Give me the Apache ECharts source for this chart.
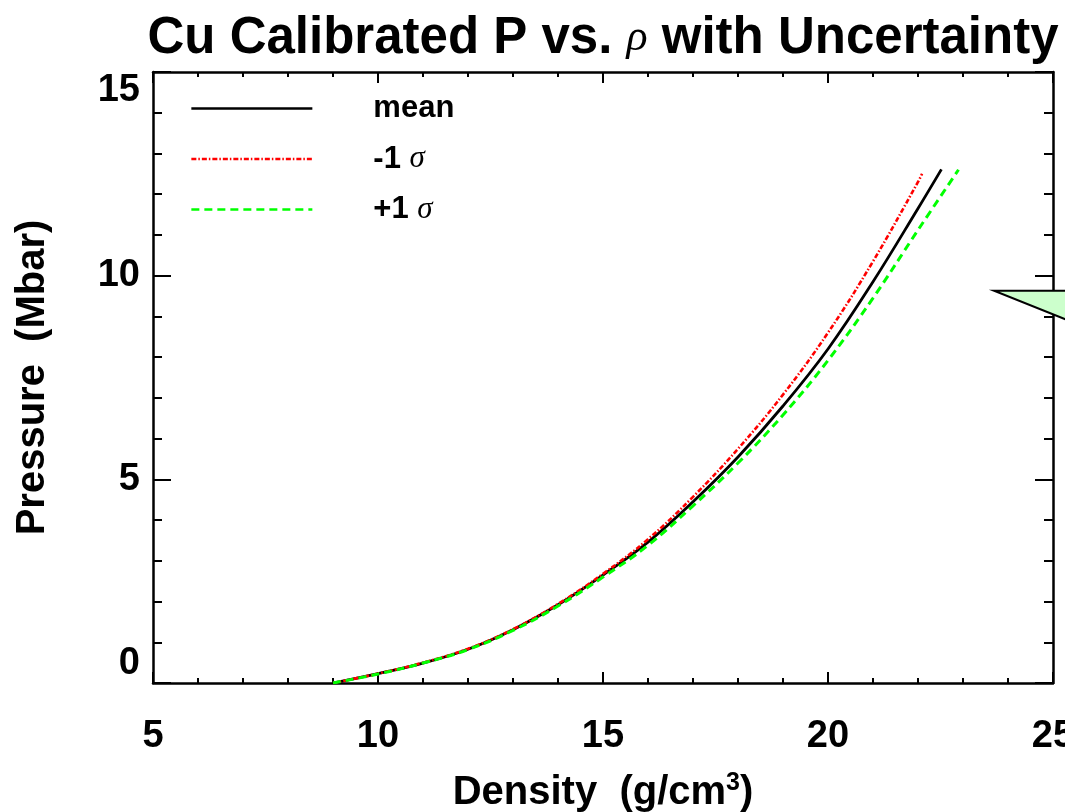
<!DOCTYPE html>
<html>
<head>
<meta charset="utf-8">
<script src="https://cdn.jsdelivr.net/npm/echarts@6/dist/echarts.min.js"></script>
<style>
html,body{margin:0;padding:0;background:#fff;}
#chart{width:1065px;height:812px;}
</style>
</head>
<body>
<div id="chart"></div>
<script>
// ---- data ----
const densityMean  = [9.0, 10, 11, 12, 13, 14, 15, 16, 17, 18, 19, 20, 21, 22, 22.52];
const pressureMean = [0, 0.23, 0.49, 0.83, 1.31, 1.92, 2.65, 3.46, 4.45, 5.55, 6.8, 8.2, 9.85, 11.65, 12.61];

const densityMinus  = [9.0, 10, 11, 12, 13, 14, 15, 16, 17, 18, 19, 20, 21, 22, 22.09];
const pressureMinus = [0, 0.23, 0.5, 0.84, 1.32, 1.94, 2.68, 3.53, 4.57, 5.75, 7.08, 8.6, 10.35, 12.3, 12.5];

const densityPlus  = [9.0, 10, 11, 12, 13, 14, 15, 16, 17, 18, 19, 20, 21, 22, 22.9];
const pressurePlus = [0, 0.22, 0.49, 0.82, 1.29, 1.89, 2.6, 3.38, 4.35, 5.4, 6.58, 7.92, 9.45, 11.12, 12.6];

const xTickLabels = [5, 10, 15, 20, 25];
const yTickLabels = [0, 5, 10, 15];

const seriesNames = ['mean', '-1 σ', '+1 σ'];

// annotation arrow (partly outside the picture), in data coordinates
const arrowCorners = [[23.69, 9.63], [28.0, 9.63], [28.0, 7.72]];

const pair = (xs, ys) => xs.map((x, i) => [x, ys[i]]);

const SANS = "'Liberation Sans', Arial, Helvetica, sans-serif";
const SERIF = "'Liberation Serif', 'Times New Roman', serif";

const chart = echarts.init(document.getElementById('chart'), null, {renderer: 'canvas'});

function axisCommon(len, minorLen) {
  return {
    axisLine: {show: true, onZero: false, lineStyle: {color: '#000', width: 2.5}},
    axisTick: {show: true, inside: true, length: len, lineStyle: {color: '#000', width: 2}},
    minorTick: {show: true, splitNumber: 5, length: minorLen, lineStyle: {color: '#000', width: 2}},
    splitLine: {show: false},
    minorSplitLine: {show: false}
  };
}

const xMin = xTickLabels[0], xMax = xTickLabels[xTickLabels.length - 1];
const xInt = xTickLabels[1] - xTickLabels[0];
const yMin = yTickLabels[0], yMax = yTickLabels[yTickLabels.length - 1];
const yInt = yTickLabels[1] - yTickLabels[0];

const legendRich = {
  sp: {width: 56, fontSize: 31},
  b: {fontFamily: SANS, fontWeight: 'bold', fontSize: 31, color: '#000'},
  g: {fontFamily: SERIF, fontStyle: 'italic', fontWeight: 'normal', fontSize: 31, color: '#000'}
};

const option = {
  backgroundColor: '#fff',
  animation: false,
  title: {
    text: '{b|Cu Calibrated P vs. }{g|ρ}{b| with Uncertainty}',
    left: 603,
    top: 13,
    padding: 0,
    textAlign: 'center',
    textStyle: {
      rich: {
        b: {fontFamily: SANS, fontWeight: 'bold', fontSize: 51, color: '#000'},
        g: {fontFamily: SERIF, fontStyle: 'italic', fontWeight: 'normal', fontSize: 44, color: '#000'}
      }
    }
  },
  legend: {
    orient: 'vertical',
    left: 190,
    top: 93,
    itemWidth: 121,
    itemHeight: 30,
    itemGap: 19.5,
    padding: 0,
    data: seriesNames,
    itemStyle: {opacity: 0, borderWidth: 0},
    lineStyle: {width: 2.7},
    formatter: function (name) {
      if (name === 'mean') return '{sp| }{b|mean}';
      if (name === '-1 σ') return '{sp| }{b|-1 }{g|σ}';
      return '{sp| }{b|+1 }{g|σ}';
    },
    textStyle: {rich: legendRich}
  },
  grid: {left: 153, right: 12, top: 72, bottom: 129, containLabel: false, outerBoundsMode: 'none'},
  xAxis: [
    Object.assign({
      type: 'value', position: 'bottom', min: xMin, max: xMax, interval: xInt,
      axisLabel: {show: true, color: '#000', fontFamily: SANS, fontWeight: 'bold', fontSize: 38, margin: 35},
      name: '{b|Density  (g/cm}{s|3}{b|)}',
      nameLocation: 'middle',
      nameGap: 88,
      nameTextStyle: {
        rich: {
          b: {fontFamily: SANS, fontWeight: 'bold', fontSize: 40, color: '#000', lineHeight: 44},
          s: {fontFamily: SANS, fontWeight: 'bold', fontSize: 25, color: '#000', verticalAlign: 'top', lineHeight: 40}
        }
      }
    }, axisCommon(11, 5)),
    Object.assign({
      type: 'value', position: 'top', min: xMin, max: xMax, interval: xInt,
      axisLabel: {show: false}
    }, axisCommon(11, 5))
  ],
  yAxis: [
    Object.assign({
      type: 'value', position: 'left', min: yMin, max: yMax, interval: yInt,
      axisLabel: {show: true, color: '#000', fontFamily: SANS, fontWeight: 'bold', fontSize: 38, margin: 13,
        verticalAlignMinLabel: 'bottom', verticalAlignMaxLabel: 'top'},
      name: 'Pressure  (Mbar)',
      nameLocation: 'middle',
      nameRotate: 90,
      nameGap: 100,
      nameTextStyle: {fontFamily: SANS, fontWeight: 'bold', fontSize: 40, color: '#000'}
    }, axisCommon(18, 9)),
    Object.assign({
      type: 'value', position: 'right', min: yMin, max: yMax, interval: yInt,
      axisLabel: {show: false}
    }, axisCommon(18, 9))
  ],
  series: [
    {
      name: seriesNames[0], type: 'line', xAxisIndex: 0, yAxisIndex: 0,
      data: pair(densityMean, pressureMean),
      smooth: 0.4, symbol: 'none', showSymbol: false,
      lineStyle: {color: '#000', width: 2.8, type: 'solid'},
      itemStyle: {color: '#000'},
      z: 3
    },
    {
      name: seriesNames[1], type: 'line', xAxisIndex: 0, yAxisIndex: 0,
      data: pair(densityMinus, pressureMinus),
      smooth: 0.4, symbol: 'none', showSymbol: false,
      lineStyle: {color: '#ff0000', width: 2.6, type: [5, 2, 1.5, 2]},
      itemStyle: {color: '#ff0000'},
      z: 4
    },
    {
      name: seriesNames[2], type: 'line', xAxisIndex: 0, yAxisIndex: 0,
      data: pair(densityPlus, pressurePlus),
      smooth: 0.4, symbol: 'none', showSymbol: false,
      lineStyle: {color: '#00ff00', width: 3, type: [8, 5]},
      itemStyle: {color: '#00ff00'},
      z: 5
    }
  ]
};

chart.setOption(option);

const pts = arrowCorners.map(p => chart.convertToPixel({gridIndex: 0}, p));
chart.setOption({
  graphic: [{
    type: 'polygon',
    z: 100,
    shape: {points: pts},
    style: {fill: '#ccffcc', stroke: '#000', lineWidth: 2}
  }]
});
</script>
</body>
</html>
